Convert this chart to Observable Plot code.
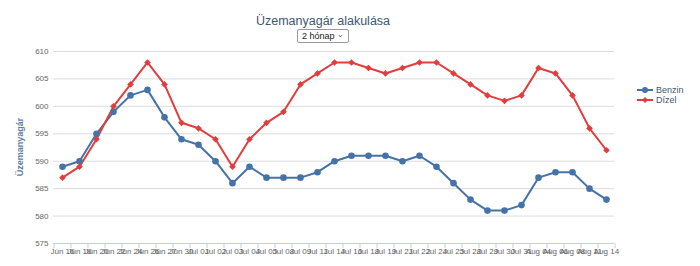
<!DOCTYPE html>
<html>
<head>
<meta charset="utf-8">
<script src="https://cdn.jsdelivr.net/npm/d3@7"></script>
<script src="https://cdn.jsdelivr.net/npm/@observablehq/plot@0.6"></script>
<style>
  html, body { margin: 0; padding: 0; background: #fff; }
  #wrap { position: relative; width: 700px; height: 266px; font-family: "Liberation Sans", Arial, sans-serif; }
  #title { position: absolute; left: 0; width: 646px; top: 14px; text-align: center; font-size: 12.5px; color: #3E576F; }
  #sel { position: absolute; left: 297px; top: 29px; width: 52px; height: 14px; font-size: 9px; line-height: 12px; padding: 0 0 0 4px; margin: 0;
         -webkit-appearance: none; appearance: none; border: 1px solid #9a9a9a; border-radius: 2px; background: #fff; color: #222; font-family: "Liberation Sans", Arial, sans-serif; }
  #selArrow { position: absolute; left: 337px; top: 29px; height: 14px; line-height: 12px; font-size: 8px; color: #555; pointer-events: none; }
  #ytitle { position: absolute; left: 20px; top: 147px; transform: translate(-50%, -50%) rotate(-90deg); font-size: 9px; font-weight: bold; color: #5a7ea6; white-space: nowrap; }
  #legend { position: absolute; left: 637px; top: 85px; font-size: 9px; color: #3E576F; }
  #legend div { height: 10px; line-height: 10px; display: flex; align-items: center; }
  #legend svg { margin-right: 3px; }
  #chart { position: absolute; left: 0; top: 0; }
</style>
</head>
<body>
<div id="wrap">
  <div id="chart"></div>
  <div id="title">Üzemanyagár alakulása</div>
  <select id="sel"><option>2 hónap</option><option>1 hónap</option><option>6 hónap</option></select>
  <div id="selArrow">&#8964;</div>
  <div id="ytitle">Üzemanyagár</div>
  <div id="legend"></div>
</div>
<script>
const dates = ["Jún 16","Jún 18","Jún 20","Jún 22","Jún 24","Jún 26","Jún 27","Jún 30",
  "Jul 01","Jul 02","Jul 03","Jul 04","Jul 05","Jul 08","Jul 09","Jul 11","Jul 14","Jul 16",
  "Jul 18","Jul 19","Jul 21","Jul 22","Jul 24","Jul 25","Jul 28","Jul 29","Jul 30","Jul 31",
  "Aug 04","Aug 06","Aug 08","Aug 11","Aug 14"];
const benzin = [589,590,595,599,602,603,598,594,593,590,586,589,587,587,587,588,590,591,591,591,590,591,589,586,583,581,581,582,587,588,588,585,583];
const dizel  = [587,589,594,600,604,608,604,597,596,594,589,594,597,599,604,606,608,608,607,606,607,608,608,606,604,602,601,602,607,606,602,596,592];
const seriesNames = ["Benzin", "Dízel"];
const seriesColors = ["#4572A7", "#e23d3d"];
const yTicks = [575, 580, 585, 590, 595, 600, 605, 610];

const rows = [
  ...dates.map((d, i) => ({date: d, value: benzin[i], series: seriesNames[0]})),
  ...dates.map((d, i) => ({date: d, value: dizel[i], series: seriesNames[1]}))
];
const step = (700 - 53 - 86) / dates.length;

const chart = Plot.plot({
  width: 700,
  height: 266,
  marginTop: 51,
  marginBottom: 23,
  marginLeft: 53,
  marginRight: 86,
  style: {fontFamily: "Liberation Sans, Arial, sans-serif", fontSize: "8px", color: "#666", background: "transparent"},
  x: {type: "point", domain: dates, padding: 0.5},
  y: {domain: [575, 610]},
  color: {domain: seriesNames, range: seriesColors},
  marks: [
    Plot.gridY(yTicks, {stroke: "#dcdcdc", strokeOpacity: 1}),
    Plot.axisY(yTicks, {tickSize: 0, tickPadding: 5, label: null, fill: "#666", fontSize: 8}),
    Plot.axisX({tickSize: 0, tickPadding: 5, label: null, fill: "#666", fontSize: 8}),
    Plot.axisX({tickSize: 5, dx: -step / 2, tickFormat: () => "", label: null, stroke: "#C0D0E0"}),
    Plot.axisX([dates[dates.length - 1]], {tickSize: 5, dx: step / 2, tickFormat: () => "", label: null, stroke: "#C0D0E0"}),
    Plot.ruleY([575], {stroke: "#C0D0E0"}),
    Plot.line(rows, {x: "date", y: "value", stroke: "series", strokeWidth: 2}),
    Plot.dot(rows.filter(r => r.series === seriesNames[0]), {x: "date", y: "value", fill: "series", r: 3.3, symbol: "circle"}),
    Plot.dot(rows.filter(r => r.series === seriesNames[1]), {x: "date", y: "value", fill: "series", r: 3, symbol: "diamond2"})
  ]
});
document.getElementById("chart").appendChild(chart);

const legend = document.getElementById("legend");
seriesNames.forEach((name, i) => {
  const item = document.createElement("div");
  const marker = i === 0
    ? `<circle cx="8" cy="5" r="3" fill="${seriesColors[i]}"/>`
    : `<path d="M8 2 L11 5 L8 8 L5 5 Z" fill="${seriesColors[i]}"/>`;
  item.innerHTML = `<svg width="16" height="10"><line x1="0" x2="16" y1="5" y2="5" stroke="${seriesColors[i]}" stroke-width="2"/>${marker}</svg><span>${name}</span>`;
  legend.appendChild(item);
});
</script>
</body>
</html>
